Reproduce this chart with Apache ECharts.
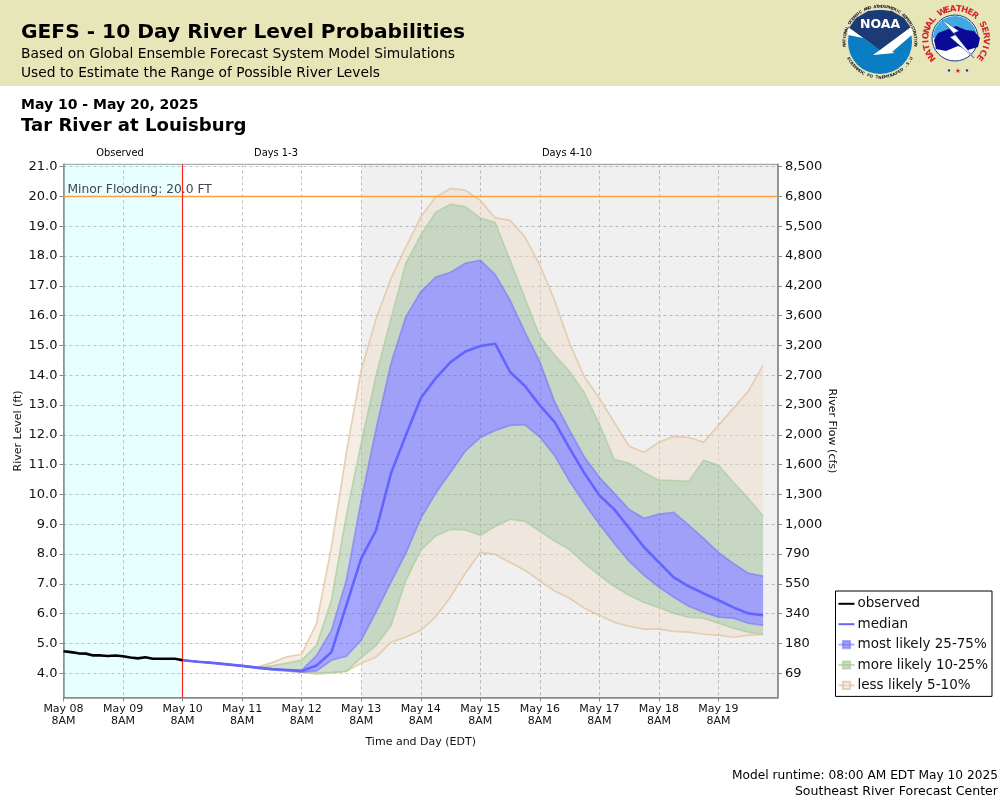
<!DOCTYPE html>
<html>
<head>
<meta charset="utf-8">
<title>GEFS - 10 Day River Level Probabilities</title>
<style>
  html, body { margin: 0; padding: 0; background: #fff; }
  #chart { width: 1000px; height: 800px; }
</style>
<script src="https://cdn.jsdelivr.net/npm/echarts@6/dist/echarts.min.js"></script>
</head>
<body>
<div id="chart"></div>
<script>
// hours counted from May 08 8AM
var dayTicks = [0, 24, 48, 72, 96, 120, 144, 168, 192, 216, 240, 264];
var dayLabels = ['May 08\n8AM', 'May 09\n8AM', 'May 10\n8AM', 'May 11\n8AM', 'May 12\n8AM', 'May 13\n8AM',
  'May 14\n8AM', 'May 15\n8AM', 'May 16\n8AM', 'May 17\n8AM', 'May 18\n8AM', 'May 19\n8AM'];

// the two y axes share the same scale, only the labels differ
var levelTicks = [4, 5, 6, 7, 8, 9, 10, 11, 12, 13, 14, 15, 16, 17, 18, 19, 20, 21];
var flowLabels = ['69', '180', '340', '550', '790', '1,000', '1,300', '1,600', '2,000', '2,300', '2,700',
  '3,200', '3,600', '4,200', '4,800', '5,500', '6,800', '8,500'];

var obsHours = [0, 3, 6, 9, 12, 15, 18, 21, 24, 27, 30, 33, 36, 39, 42, 45, 48];
var observed = [4.74, 4.71, 4.67, 4.66, 4.6, 4.6, 4.58, 4.6, 4.57, 4.53, 4.5, 4.54, 4.49, 4.49, 4.49, 4.49, 4.44];

var fcstHours = [48, 54, 60, 66, 72, 78, 84, 90, 96, 102, 108, 114, 120, 126, 132, 138, 144, 150, 156, 162,
  168, 174, 180, 186, 192, 198, 204, 210, 216, 222, 228, 234, 240, 246, 252, 258, 264, 270, 276, 282];
var median = [4.44, 4.39, 4.35, 4.3, 4.25, 4.19, 4.14, 4.11, 4.08, 4.26, 4.71, 6.28, 7.86, 8.8, 10.71, 11.99, 13.23, 13.9, 14.44, 14.8,
  14.98, 15.06, 14.11, 13.64, 12.99, 12.43, 11.55, 10.71, 9.97, 9.5, 8.87, 8.23, 7.72, 7.22, 6.92, 6.68, 6.45, 6.21, 6.01, 5.95];
var p5 = [4.44, 4.39, 4.35, 4.3, 4.25, 4.17, 4.11, 4.07, 4.04, 3.97, 4.01, 4.06, 4.34, 4.55, 5.04, 5.22, 5.44, 5.89, 6.56, 7.36,
  8.06, 7.99, 7.72, 7.46, 7.1, 6.76, 6.52, 6.18, 5.95, 5.71, 5.58, 5.48, 5.48, 5.41, 5.38, 5.31, 5.28, 5.21, 5.28, 5.3];
var p10 = [4.44, 4.39, 4.35, 4.3, 4.25, 4.17, 4.12, 4.08, 4.04, 4.01, 4.03, 4.07, 4.53, 4.94, 5.61, 7.12, 8.13, 8.61, 8.83, 8.81,
  8.63, 8.93, 9.17, 9.1, 8.77, 8.44, 8.15, 7.69, 7.29, 6.92, 6.62, 6.38, 6.21, 6.01, 5.88, 5.85, 5.68, 5.51, 5.38, 5.31];
var p25 = [4.44, 4.39, 4.35, 4.3, 4.25, 4.18, 4.13, 4.1, 4.04, 4.08, 4.44, 4.57, 5.11, 6.06, 7.06, 8.03, 9.2, 10.04, 10.75, 11.46,
  11.91, 12.15, 12.32, 12.34, 11.93, 11.3, 10.44, 9.7, 9.0, 8.36, 7.76, 7.29, 6.89, 6.55, 6.25, 6.05, 5.88, 5.85, 5.68, 5.61];
var p75 = [4.44, 4.39, 4.35, 4.3, 4.25, 4.2, 4.15, 4.12, 4.1, 4.6, 5.44, 7.12, 9.8, 12.2, 14.4, 15.96, 16.8, 17.29, 17.46, 17.76,
  17.86, 17.38, 16.52, 15.45, 14.45, 13.1, 12.15, 11.25, 10.58, 10.04, 9.5, 9.2, 9.34, 9.4, 8.97, 8.53, 8.06, 7.69, 7.36, 7.26];
var p90 = [4.44, 4.39, 4.35, 4.3, 4.25, 4.2, 4.25, 4.34, 4.44, 4.94, 6.45, 9.3, 11.72, 14.0, 15.9, 17.76, 18.7, 19.47, 19.74, 19.65,
  19.28, 19.13, 17.86, 16.58, 15.31, 14.67, 14.13, 13.4, 12.35, 11.18, 11.05, 10.74, 10.48, 10.47, 10.44, 11.15, 10.98, 10.41, 9.87, 9.27];
var p95 = [4.44, 4.39, 4.35, 4.3, 4.25, 4.21, 4.36, 4.55, 4.64, 5.67, 8.24, 11.4, 14.17, 15.9, 17.25, 18.3, 19.31, 19.98, 20.27, 20.21,
  19.87, 19.28, 19.2, 18.64, 17.7, 16.5, 15.07, 13.94, 13.23, 12.42, 11.62, 11.42, 11.75, 11.95, 11.92, 11.75, 12.32, 12.89, 13.46, 14.34];

var FONT = '"DejaVu Sans"';
var BLUE_FILL = 'rgba(102,102,255,0.58)', BLUE_LINE = 'rgba(110,110,250,0.55)';
var GREEN_FILL = 'rgba(160,190,150,0.5)', GREEN_LINE = 'rgba(170,205,155,0.7)';
var TAN_FILL = 'rgba(237,221,203,0.5)', TAN_LINE = 'rgba(225,195,160,0.75)';

function pairs(hours, vals) {
  return hours.map(function (h, i) { return [h, vals[i]]; });
}

// filled region between two percentile curves, drawn once as a whole polygon
function band(name, lo, hi, fill, loLine, hiLine) {
  return {
    name: name,
    type: 'custom',
    silent: true,
    z: 3,
    coordinateSystem: 'cartesian2d',
    data: fcstHours.map(function (h, i) { return [h, lo[i], hi[i]]; }),
    encode: { x: 0, y: [1, 2] },
    renderItem: function (params, api) {
      if (params.dataIndex !== 0) return null;
      var bottom = fcstHours.map(function (h, i) { return api.coord([h, lo[i]]); });
      var top = fcstHours.map(function (h, i) { return api.coord([h, hi[i]]); });
      var kids = [{
        type: 'polygon',
        shape: { points: top.concat(bottom.slice().reverse()) },
        style: { fill: fill }
      }];
      if (loLine) kids.push({ type: 'polyline', shape: { points: bottom }, style: { fill: null, stroke: loLine, lineWidth: 1.7 } });
      if (hiLine) kids.push({ type: 'polyline', shape: { points: top }, style: { fill: null, stroke: hiLine, lineWidth: 1.7 } });
      return { type: 'group', children: kids };
    }
  };
}

// empty line series, only here to give the legend its line-and-square keys
function legendKey(name, fill, line) {
  return {
    name: name, type: 'line', symbol: 'rect', data: [],
    itemStyle: { color: fill, borderColor: line, borderWidth: 1 },
    lineStyle: { color: line, width: 2 }
  };
}

// text with every character turned along a circle, for the logos
function ringText(str, cx, cy, r, from, to, font, color, under) {
  var out = [];
  for (var i = 0; i < str.length; i++) {
    var a = (from + (to - from) * i / (str.length - 1)) * Math.PI / 180;
    out.push({
      type: 'text', x: cx + r * Math.sin(a), y: cy - r * Math.cos(a), rotation: under ? Math.PI - a : -a,
      style: { text: str[i], font: font, fill: color, align: 'center', verticalAlign: 'middle' }
    });
  }
  return out;
}

function label(text, x, y, font, align, color) {
  return {
    type: 'text', x: x, y: y,
    style: { text: text, font: font, fill: color || '#000', align: align || 'left', verticalAlign: 'middle' }
  };
}

var noaa = [
  { type: 'circle', shape: { cx: 880, cy: 42, r: 32 }, style: { fill: '#0b7dc3' } },
  { type: 'polygon', shape: { points: [[849, 28], [856, 18], [868, 11], [880, 10], [892, 11], [904, 18], [911, 28], [880, 50]] }, style: { fill: '#1c3a75' } },
  { type: 'polygon', shape: { points: [[848, 27], [880, 50], [911, 27], [913, 34], [892, 52], [895, 53], [873, 55], [880, 50], [863, 38], [848, 35]] }, style: { fill: '#fff' } },
  label('NOAA', 880, 25, 'bold 12.5px ' + FONT, 'center', '#fff')
].concat(
  ringText('NATIONAL OCEANIC AND ATMOSPHERIC ADMINISTRATION', 880, 42, 35.5, -95, 95, 'bold 4px ' + FONT, '#223'),
  ringText('U.S. DEPARTMENT OF COMMERCE', 880, 42, 35.5, 118, 242, 'bold 4px ' + FONT, '#223', true)
);

var nws = [
  { type: 'circle', shape: { cx: 955, cy: 38, r: 23 }, style: { fill: '#fff', stroke: '#123a8a', lineWidth: 1 } },
  { type: 'sector', shape: { cx: 955, cy: 38, r: 22, startAngle: Math.PI, endAngle: 2 * Math.PI }, style: { fill: '#3fa9e0' } },
  { type: 'polygon', shape: { points: [[934, 40], [938, 33], [946, 30], [956, 26], [966, 30], [974, 31], [980, 38], [978, 47], [968, 50], [958, 46], [946, 51], [936, 49]] }, style: { fill: '#0a0a96' } },
  { type: 'polygon', shape: { points: [[941, 19], [959, 31], [954, 33], [974, 58], [950, 37], [955, 35]] }, style: { fill: '#fff', stroke: '#123a8a', lineWidth: 0.5 } },
  label('★', 958, 71, 'bold 7px ' + FONT, 'center', '#d8232a'),
  label('•', 949, 71, 'bold 7px ' + FONT, 'center', '#123a8a'),
  label('•', 967, 71, 'bold 7px ' + FONT, 'center', '#123a8a')
].concat(
  ringText('NATIONAL WEATHER SERVICE', 956, 39, 30, -128, 128, 'bold 8.5px ' + FONT, '#d8232a')
);

var chart = echarts.init(document.getElementById('chart'));
var option = {
  animation: false,
  textStyle: { fontFamily: FONT },
  grid: { left: 63.5, right: 222, top: 164.3, bottom: 102.5, show: true, borderColor: '#999', borderWidth: 1, backgroundColor: 'transparent', outerBoundsMode: 'none' },
  legend: {
    orient: 'vertical', left: 835.5, top: 591,
    padding: [5.8, 4, 4, 2], itemGap: 6.4, itemWidth: 16, itemHeight: 9,
    borderColor: '#000', borderWidth: 1, backgroundColor: '#fff',
    selectedMode: false,
    textStyle: { fontFamily: FONT, fontSize: 13.5, color: '#111', padding: [0, 0, 0, -2] },
    data: [
      { name: 'observed', itemStyle: { opacity: 0 } },
      { name: 'median', itemStyle: { opacity: 0 } },
      'most likely 25-75%', 'more likely 10-25%', 'less likely 5-10%'
    ]
  },
  xAxis: {
    type: 'value', min: 0, max: 288,
    name: 'Time and Day (EDT)', nameLocation: 'middle', nameGap: 39,
    nameTextStyle: { fontSize: 11, color: '#111' },
    axisLine: { onZero: false, lineStyle: { color: '#888', width: 1.5 } },
    axisTick: { customValues: dayTicks, length: 4, lineStyle: { color: '#888' } },
    axisLabel: {
      customValues: dayTicks, fontSize: 11, color: '#111', lineHeight: 12.5, margin: 5, showMinLabel: true, showMaxLabel: true, hideOverlap: false,
      formatter: function (v) { return dayLabels[dayTicks.indexOf(v)]; }
    },
    splitLine: { show: true, lineStyle: { color: '#c2c2c2', type: [3, 3] } }
  },
  yAxis: [{
    type: 'value', min: 3.188, max: 21.08, position: 'left',
    name: 'River Level (ft)', nameLocation: 'middle', nameGap: 40, nameMoveOverlap: false,
    nameTextStyle: { fontSize: 11, color: '#111' },
    axisLine: { show: true, onZero: false, lineStyle: { color: '#888', width: 1.5 } },
    axisTick: { show: true, customValues: levelTicks, length: 4, lineStyle: { color: '#888' } },
    axisLabel: {
      customValues: levelTicks, fontSize: 13, color: '#111', margin: 6, padding: [2, 0, 0, 0],
      formatter: function (v) { return v.toFixed(1); }
    },
    splitLine: { show: true, lineStyle: { color: '#c2c2c2', type: [3, 3] } }
  }, {
    type: 'value', min: 3.188, max: 21.08, position: 'right',
    name: 'River Flow (cfs)', nameLocation: 'middle', nameGap: 48, nameRotate: -90, nameMoveOverlap: false,
    nameTextStyle: { fontSize: 11, color: '#111' },
    axisLine: { show: true, onZero: false, lineStyle: { color: '#888', width: 1.5 } },
    axisTick: { show: true, customValues: levelTicks, length: 4, lineStyle: { color: '#888' } },
    axisLabel: {
      customValues: levelTicks, fontSize: 13, color: '#111', margin: 7, padding: [2, 0, 0, 0],
      formatter: function (v) { return flowLabels[levelTicks.indexOf(v)]; }
    },
    splitLine: { show: false }
  }],
  series: [
    band('lower less likely', p5, p10, TAN_FILL, TAN_LINE, null),
    band('upper less likely', p90, p95, TAN_FILL, null, TAN_LINE),
    band('lower more likely', p10, p25, GREEN_FILL, GREEN_LINE, null),
    band('upper more likely', p75, p90, GREEN_FILL, null, GREEN_LINE),
    band('most likely band', p25, p75, BLUE_FILL, BLUE_LINE, BLUE_LINE),
    legendKey('most likely 25-75%', BLUE_FILL, BLUE_LINE),
    legendKey('more likely 10-25%', GREEN_FILL, GREEN_LINE),
    legendKey('less likely 5-10%', TAN_FILL, TAN_LINE),
    {
      name: 'median', type: 'line', symbol: 'none', z: 5, silent: true,
      data: pairs(fcstHours, median),
      itemStyle: { color: '#6464ff' },
      lineStyle: { color: '#6464ff', width: 2.6 }
    },
    {
      name: 'observed', type: 'line', symbol: 'none', z: 6, silent: true,
      data: pairs(obsHours, observed),
      itemStyle: { color: '#000' },
      lineStyle: { color: '#000', width: 2.6 },
      // shaded day ranges stay see-through so the grid still shows
      markArea: {
        silent: true,
        z: 1,
        data: [
          [{ xAxis: dayTicks[0], itemStyle: { color: 'rgba(0,255,255,0.09)' } }, { xAxis: dayTicks[2] }],
          [{ xAxis: dayTicks[5], itemStyle: { color: 'rgba(0,0,0,0.06)' } }, { xAxis: 288 }]
        ]
      },
      markLine: {
        silent: true, symbol: 'none', animation: false,
        data: [
          {
            yAxis: 20,
            lineStyle: { color: '#ffa040', type: 'solid', width: 1.4 },
            label: {
              show: true, position: 'insideStartTop', formatter: 'Minor Flooding: 20.0 FT',
              fontFamily: FONT, fontSize: 12.3, color: '#445', distance: 1, padding: [0, 0, 0, 3]
            }
          },
          {
            xAxis: dayTicks[2],
            lineStyle: { color: '#ff2020', type: 'solid', width: 1.2 },
            label: { show: false }
          }
        ]
      }
    }
  ],
  graphic: [
    { type: 'rect', shape: { x: 0, y: 0, width: 1000, height: 86 }, style: { fill: '#e6e6b9' }, z: -10 },
    label('GEFS - 10 Day River Level Probabilities', 21, 33, 'bold 20.2px ' + FONT),
    label('Based on Global Ensemble Forecast System Model Simulations', 21, 54, '13.8px ' + FONT),
    label('Used to Estimate the Range of Possible River Levels', 21, 73, '13.8px ' + FONT),
    label('May 10 - May 20, 2025', 21, 105, 'bold 14px ' + FONT),
    label('Tar River at Louisburg', 21, 126, 'bold 18.1px ' + FONT),
    label('Observed', 120, 153.5, '9.9px ' + FONT, 'center'),
    label('Days 1-3', 276, 153.5, '9.9px ' + FONT, 'center'),
    label('Days 4-10', 567, 153.5, '9.9px ' + FONT, 'center'),
    label('Model runtime: 08:00 AM EDT May 10 2025', 998, 776, '12.2px ' + FONT, 'right'),
    label('Southeast River Forecast Center', 998, 792, '12.55px ' + FONT, 'right')
  ].concat(noaa, nws)
};
chart.setOption(option);
</script>
</body>
</html>
